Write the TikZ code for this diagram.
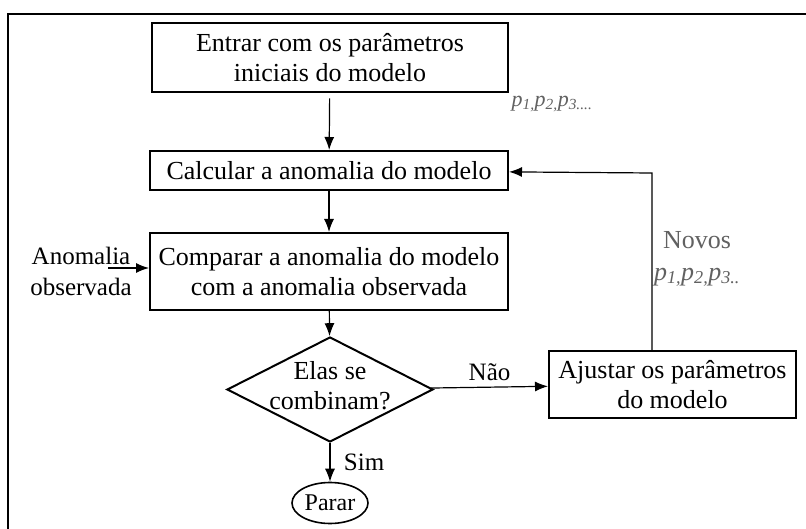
\documentclass[tikz,border=0pt]{standalone}
\usepackage{fontspec}
\setmainfont{Liberation Serif}
\usepackage{tikz}
\usetikzlibrary{arrows.meta}
\usetikzlibrary{positioning}
\usetikzlibrary{shapes.geometric}
\tikzset{>={Latex[length=13pt,width=10pt]}}
\usepackage{xcolor}
\colorlet{mygray}{black!62}
\newcommand{\pind}[1]{\textit{p}\textsubscript{\textit{#1}}}
\tikzstyle{box}=[draw,line width=2pt,align=center,inner sep=2pt,font=\fontsize{26}{30}\selectfont]

\begin{document}
\begin{tikzpicture}[x=1pt, y=-1pt, line width=1.2pt, lbl/.style = {font=\fontsize{25}{31}\selectfont, align=center}]
	\useasboundingbox (0,0) rectangle (806,529);
	\draw[line width=1.6pt] (8,529) -- (8,14) -- (806,14);
	\node[box, minimum width=356pt, minimum height=69pt] (1) at (330,58) {Entrar com os parâmetros\\iniciais do modelo};
	\node[box, minimum width=358pt, minimum height=39pt] (2) at (329,170.5) {Calcular a anomalia do modelo};
	\node[box, minimum width=358pt, minimum height=77pt] (3) at (329,271.5) {Comparar a anomalia do modelo\\com a anomalia observada};
	\node[diamond, draw, line width=2pt, minimum width=206pt, minimum height=105pt, inner sep=0pt] (4) at (330,389.5) {};
	\node[box, draw=none] (4t) at (330,386) {Elas se\\combinam?};
	\node[box, minimum width=247pt, minimum height=67pt] (5) at (672.5,384.5) {Ajustar os parâmetros\\do modelo};
	\node[ellipse, draw, line width=1.6pt, minimum width=76pt, minimum height=41pt, inner sep=0pt, font=\fontsize{24}{28}\selectfont] (6) at (330,503) {Parar};
	\node[lbl] (7) at (81,271) {Anomalia\\observada};
	\node[text=mygray, font=\fontsize{22}{26}\selectfont] (8) at (552,104) {\pind{1,}\pind{2,}\pind{3....}};
	\node[lbl, text=mygray, font=\fontsize{26}{32}\selectfont] (9) at (697,259) {Novos\\\pind{1,}\pind{2,}\pind{3..}};
	\coordinate (a) at (108,268);
	\coordinate (b) at (652,173);
	\draw[->, shorten <=5pt] (1) -- (2);
	\draw[->] (2) -- (3);
	\draw[->] (3) -- (4);
	\draw[->] (a) -- (a -| 3.west);
	\draw[->] (4) -- node[lbl, above=2pt] {Não} (5);
	\draw[->] (4) -- node[lbl, right=10pt] {Sim} (6);
	\draw[->] (5.north -| b) -- (b) -- (2);
	\end{tikzpicture}
\end{document}
